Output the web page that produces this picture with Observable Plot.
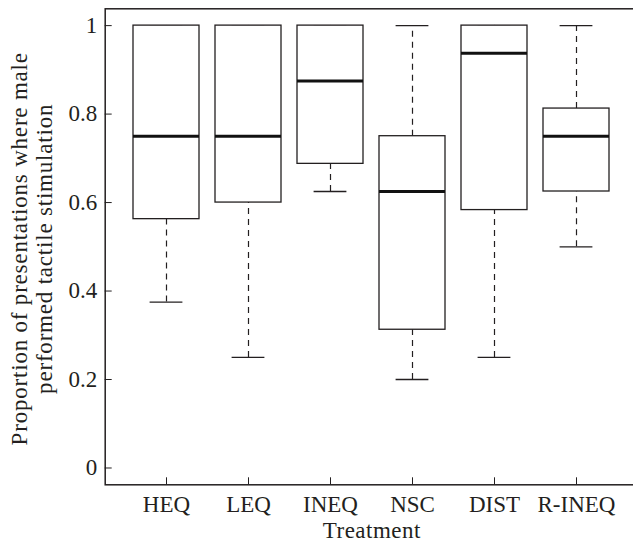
<!DOCTYPE html>
<html><head><meta charset="utf-8">
<script src="https://cdn.jsdelivr.net/npm/d3@7"></script>
<script src="https://cdn.jsdelivr.net/npm/@observablehq/plot@0.6"></script>
<style>
html,body{margin:0;padding:0;background:#fff;overflow:hidden;width:633px;}
#chart{width:633px;overflow:hidden;}
</style></head><body><div id="chart"></div>
<script>
const categories = ["HEQ", "LEQ", "INEQ", "NSC", "DIST", "R-INEQ"];
const mins    = [0.375, 0.25, 0.625, 0.2, 0.25, 0.5];
const q1s     = [0.5625, 0.6, 0.6875, 0.3125, 0.583, 0.625];
const medians = [0.75, 0.75, 0.875, 0.625, 0.9375, 0.75];
const q3s     = [1, 1, 1, 0.75, 1, 0.8125];
const maxs    = [1, 1, 1, 1, 1, 1];
const yTicks = [0, 0.2, 0.4, 0.6, 0.8, 1];
const yTickLabels = ["0", "0.2", "0.4", "0.6", "0.8", "1"];
const yLabel = "Proportion of presentations where male\nperformed tactile stimulation";
const xLabel = "Treatment";

const rows = categories.map((c, i) => ({treatment: c, min: mins[i], q1: q1s[i], median: medians[i], q3: q3s[i], max: maxs[i]}));
const font = "'Liberation Serif', 'Times New Roman', serif";
const ink = "#231f20";
const yDomain = [-0.038, 1.038];

const chart = Plot.plot({
  width: 650, height: 545,
  marginLeft: 104.7, marginRight: 12, marginTop: 8.3, marginBottom: 60.7,
  style: {fontFamily: font, fontSize: "23px", color: ink, background: "#fff", overflow: "hidden", maxWidth: "none"},
  x: {domain: categories, paddingInner: 0.19, paddingOuter: 0.34, label: null},
  y: {domain: yDomain, label: null},
  marks: [
    Plot.ruleX(rows, {x: "treatment", y1: "min", y2: "q1", stroke: ink, strokeWidth: 1.2, strokeDasharray: "6,5"}),
    Plot.ruleX(rows, {x: "treatment", y1: "q3", y2: "max", stroke: ink, strokeWidth: 1.2, strokeDasharray: "6,5"}),
    Plot.tickY(rows, {x: "treatment", y: "min", insetLeft: 16.6, insetRight: 16.6, stroke: ink, strokeWidth: 1.3}),
    Plot.tickY(rows, {x: "treatment", y: "max", insetLeft: 16.6, insetRight: 16.6, stroke: ink, strokeWidth: 1.3}),
    Plot.barY(rows, {x: "treatment", y1: "q1", y2: "q3", fill: "white", stroke: ink, strokeWidth: 1.3}),
    Plot.tickY(rows, {x: "treatment", y: "median", stroke: "#111", strokeWidth: 3}),
    Plot.frame({stroke: ink, strokeWidth: 1.5}),
    Plot.axisY(yTicks, {tickSize: -7, tickPadding: 15, tickFormat: d => yTickLabels[yTicks.indexOf(d)], fontSize: 23, stroke: ink}),
    Plot.axisX({tickSize: -7, tickPadding: 18, fontSize: 23, stroke: ink}),
    Plot.text([yLabel], {frameAnchor: "left", textAnchor: "middle", rotate: -90, dx: -74, dy: 2, text: d => d, lineHeight: 1.1, fontSize: 23, fill: ink}),
    Plot.text([xLabel], {frameAnchor: "bottom", textAnchor: "middle", dy: 37, lineAnchor: "top", text: d => d, fontSize: 23, fill: ink})
  ]
});
d3.select(chart).selectAll("text").filter(function () {
  const t = this.textContent;
  return t.startsWith("Proportion") || t.startsWith("performed");
}).attr("letter-spacing", "0.8px");
d3.select(chart).selectAll("text").filter(function () { return this.textContent === xLabel; }).attr("letter-spacing", "0.5px");
document.getElementById("chart").appendChild(chart);
</script></body></html>
